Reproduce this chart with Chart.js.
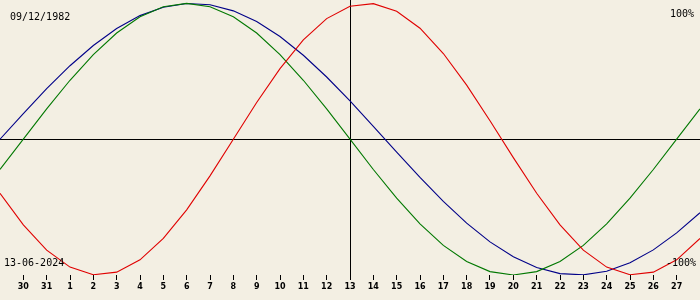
<!DOCTYPE html>
<html><head><meta charset="utf-8">
<style>html,body{margin:0;padding:0;background:#f3efe3;}canvas{display:block;}</style>
<script src="https://cdn.jsdelivr.net/npm/chart.js@4"></script>
</head><body>
<canvas id="c" width="700" height="300"></canvas>
<script>
// Day offsets relative to 13 June 2024
const dayOffsets = [-15,-14,-13,-12,-11,-10,-9,-8,-7,-6,-5,-4,-3,-2,-1,0,1,2,3,4,5,6,7,8,9,10,11,12,13,14,15];
// Tick labels (day of month) for offsets -14..14
const dayLabels = ['30','31','1','2','3','4','5','6','7','8','9','10','11','12','13','14','15','16','17','18','19','20','21','22','23','24','25','26','27'];
// Physical (red)
const physical = [-0.398,-0.631,-0.817,-0.942,-0.998,-0.979,-0.888,-0.731,-0.520,-0.270,0,0.270,0.520,0.731,0.888,0.979,0.998,0.942,0.817,0.631,0.398,0.136,-0.136,-0.398,-0.631,-0.817,-0.942,-0.998,-0.979,-0.888,-0.731];
// Emotional (green)
const emotional = [-0.223,0,0.223,0.434,0.623,0.782,0.901,0.975,1,0.975,0.901,0.782,0.623,0.434,0.223,0,-0.223,-0.434,-0.623,-0.782,-0.901,-0.975,-1,-0.975,-0.901,-0.782,-0.623,-0.434,-0.223,0,0.223];
// Intellectual (blue)
const intellectual = [0,0.189,0.372,0.541,0.690,0.815,0.910,0.972,0.999,0.990,0.945,0.866,0.756,0.618,0.458,0.282,0.095,-0.095,-0.282,-0.458,-0.618,-0.756,-0.866,-0.945,-0.990,-0.999,-0.972,-0.910,-0.815,-0.690,-0.541];

const birthDateText = '09/12/1982';
const viewDateText = '13-06-2024';
const maxText = '100%';
const minText = '-100%';

const toPoints = vals => dayOffsets.map((d, i) => ({x: d, y: vals[i]}));

const bgPlugin = {
  id: 'bg',
  beforeDraw(chart) {
    const ctx = chart.ctx;
    ctx.save();
    ctx.fillStyle = '#f3efe3';
    ctx.fillRect(0, 0, chart.width, chart.height);
    ctx.restore();
  }
};
const textPlugin = {
  id: 'texts',
  afterDatasetsDraw(chart) {
    const ctx = chart.ctx;
    ctx.save();
    ctx.fillStyle = '#000';
    ctx.font = '10px "DejaVu Sans Mono"';
    ctx.textBaseline = 'alphabetic';
    ctx.textAlign = 'left';
    ctx.fillText(birthDateText, 10, 20);
    ctx.fillText(viewDateText, 4, 266);
    ctx.textAlign = 'right';
    ctx.fillText(maxText, 694, 17);
    ctx.fillText(minText, 696, 266);
    ctx.restore();
  }
};

new Chart(document.getElementById('c'), {
  type: 'line',
  data: {
    datasets: [
      {data: toPoints(physical), borderColor: '#e00000', borderWidth: 1.1, pointRadius: 0, tension: 0, fill: false},
      {data: toPoints(emotional), borderColor: '#007800', borderWidth: 1.1, pointRadius: 0, tension: 0, fill: false},
      {data: toPoints(intellectual), borderColor: '#000088', borderWidth: 1.1, pointRadius: 0, tension: 0, fill: false}
    ]
  },
  options: {
    responsive: false,
    animation: false,
    layout: {padding: 0},
    plugins: {legend: {display: false}, tooltip: {enabled: false}},
    scales: {
      x: {
        type: 'linear',
        min: -15, max: 15,
        afterBuildTicks(scale) {
          const t = [];
          for (let i = 0; i < dayLabels.length; i++) t.push({value: i - 14});
          scale.ticks = t;
        },
        afterFit(scale) { scale.height = 25; },
        border: {display: false},
        grid: {
          color: ctx => (ctx.tick && ctx.tick.value === 0) ? '#000' : 'rgba(0,0,0,0)',
          tickColor: '#000',
          tickLength: 5,
          lineWidth: 1
        },
        ticks: {
          autoSkip: false, maxRotation: 0, padding: 2,
          color: '#000',
          font: {family: 'DejaVu Sans', size: 8, weight: 'bold'},
          callback: (v) => dayLabels[v + 14]
        }
      },
      y: {
        min: -1, max: 1.025,
        afterBuildTicks(scale) { scale.ticks = [{value: 0}]; },
        afterFit(scale) { scale.width = 0; },
        border: {display: false},
        grid: {
          color: ctx => (ctx.tick && ctx.tick.value === 0) ? '#000' : 'rgba(0,0,0,0)',
          drawTicks: false,
          lineWidth: 1
        },
        ticks: {display: false}
      }
    }
  },
  plugins: [bgPlugin, textPlugin]
});
</script>
</body></html>
